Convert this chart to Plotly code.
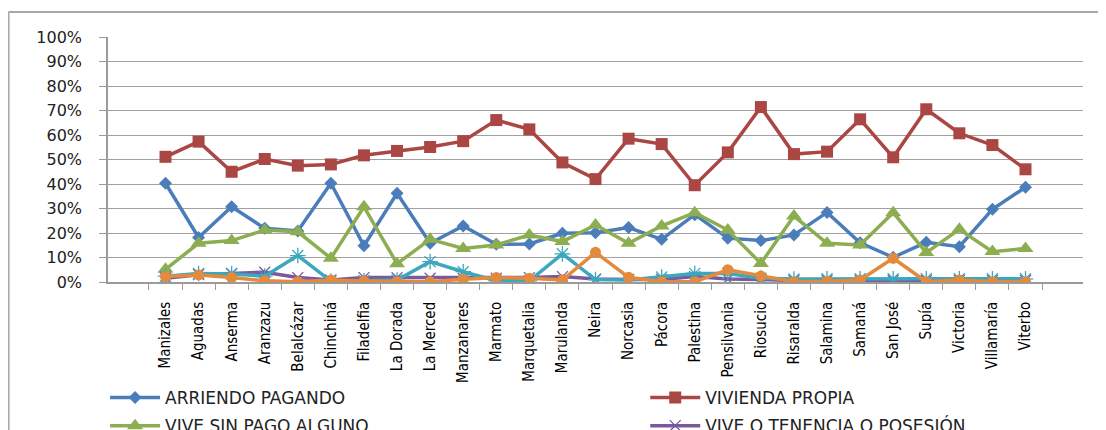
import plotly.graph_objects as go

municipios = ["Manizales", "Aguadas", "Anserma", "Aranzazu", "Belalcázar", "Chinchiná",
              "Filadelfia", "La Dorada", "La Merced", "Manzanares", "Marmato", "Marquetalia",
              "Marulanda", "Neira", "Norcasia", "Pácora", "Palestina", "Pensilvania",
              "Riosucio", "Risaralda", "Salamina", "Samaná", "San José", "Supía",
              "Victoria", "Villamaría", "Viterbo"]

arriendo_pagando = [40.3, 18.2, 30.7, 21.9, 20.8, 40.3, 14.8, 36.2, 15.8, 22.9, 15.4, 15.5,
                    19.9, 20.1, 22.2, 17.4, 27.5, 17.9, 16.9, 19.2, 28.4, 16.0, 10.1, 16.2,
                    14.4, 29.7, 38.7]
vivienda_propia = [51.1, 57.3, 45.0, 50.2, 47.5, 48.0, 51.7, 53.5, 55.1, 57.5, 66.1, 62.3,
                   48.8, 42.0, 58.5, 56.3, 39.5, 52.9, 71.4, 52.2, 53.2, 66.4, 50.9, 70.5,
                   60.7, 55.9, 46.0]
vive_sin_pago = [5.2, 15.8, 16.9, 21.2, 20.5, 9.7, 30.7, 7.5, 17.4, 13.7, 15.1, 19.2,
                 16.5, 23.3, 15.8, 22.9, 28.3, 21.2, 7.6, 26.9, 15.8, 15.1, 28.3, 12.0,
                 21.5, 12.4, 13.7]
vive_tenencia = [1.5, 3.0, 3.5, 4.0, 1.8, 0.8, 1.8, 1.8, 1.5, 1.5, 1.5, 1.8,
                 2.2, 1.2, 1.0, 1.0, 2.2, 1.2, 1.0, 0.6, 0.6, 0.6, 0.6, 0.6,
                 0.6, 0.6, 0.6]
otra_forma = [2.4, 3.5, 3.3, 2.4, 10.8, 0.4, 0.5, 0.8, 8.3, 4.2, 0.5, 0.5,
              11.5, 1.0, 0.8, 2.0, 3.5, 3.5, 1.5, 1.2, 1.3, 1.3, 1.3, 1.3,
              1.3, 1.3, 1.3]
sin_informacion = [2.2, 2.9, 1.8, 0.5, 0.1, 0.8, 0.4, 0.1, 0.1, 1.1, 1.8, 1.5,
                   0.8, 12.1, 1.9, 0.1, 0.1, 5.0, 2.4, 0.1, 0.3, 0.8, 9.7, 0.1,
                   0.8, 0.1, 0.1]

y_ticks = [0, 10, 20, 30, 40, 50, 60, 70, 80, 90, 100]
y_labels = [f"{v}%" for v in y_ticks]

# (name, values, color, marker, legend id or None)
series = [
    ("ARRIENDO PAGANDO", arriendo_pagando, "#4A7DBA", dict(symbol="diamond", size=10), "legend"),
    ("VIVIENDA PROPIA", vivienda_propia, "#AA4643", dict(symbol="square", size=12), "legend2"),
    ("VIVE SIN PAGO ALGUNO", vive_sin_pago, "#8DAE50", dict(symbol="triangle-up", size=14), "legend"),
    ("VIVE O TENENCIA O POSESIÓN", vive_tenencia, "#7A5A9C",
     dict(symbol="x-thin-open", size=11, line=dict(width=1.3, color="#8A70B0")), "legend2"),
    ("OTRA FORMA", otra_forma, "#3DA7BF",
     dict(symbol="asterisk-open", size=13, line=dict(width=1.3, color="#5AB8D0")), None),
    ("SIN INFORMACIÓN", sin_informacion, "#E38A3D", dict(symbol="circle", size=11), None),
]

fig = go.Figure()
for name, vals, color, marker, leg in series:
    m = dict(color=color)
    m.update(marker)
    fig.add_trace(go.Scatter(
        x=municipios, y=vals, name=name, mode="lines+markers",
        line=dict(color=color, width=3.5),
        marker=m, showlegend=leg is not None, legend=leg or "legend",
        legendgroup=name,
    ))

legend_font = dict(family="DejaVu Sans", size=17, color="#222222")
fig.update_layout(
    template="none",
    width=1098, height=422,
    margin=dict(l=100, r=23, t=29, b=148, autoexpand=False),
    paper_bgcolor="white", plot_bgcolor="white",
    font=dict(family="DejaVu Sans", color="#222222"),
    legend=dict(
        orientation="v", x=-0.003, xanchor="left", y=-0.40, yanchor="top",
        font=legend_font, tracegroupgap=3, itemwidth=50,
        bgcolor="rgba(0,0,0,0)", borderwidth=0,
    ),
    legend2=dict(
        orientation="v", x=0.551, xanchor="left", y=-0.40, yanchor="top",
        font=legend_font, tracegroupgap=3, itemwidth=50,
        bgcolor="rgba(0,0,0,0)", borderwidth=0,
    ),
    shapes=[
        dict(type="line", xref="paper", yref="paper", x0=-0.102, x1=1.03, y0=1.102, y1=1.102,
             line=dict(color="#A8A8A8", width=2)),
        dict(type="line", xref="paper", yref="paper", x0=-0.102, x1=-0.102, y0=1.102, y1=-0.62,
             line=dict(color="#A8A8A8", width=2)),
    ],
)

fig.update_xaxes(
    type="category", tickangle=-90, automargin=False,
    tickfont=dict(family="Liberation Sans Narrow, DejaVu Sans Condensed, sans-serif", size=15, color="#000000"),
    showline=True, linecolor="#9A9A9A", linewidth=1.5,
    ticks="outside", tickson="boundaries", ticklen=6, tickcolor="#9A9A9A",
    showgrid=False, zeroline=False, ticklabelstandoff=12,
)
fig.update_yaxes(
    range=[0, 100], tickvals=y_ticks, ticktext=y_labels, automargin=False,
    tickfont=dict(family="DejaVu Sans", size=16, color="#222222"),
    showline=True, linecolor="#9A9A9A", linewidth=1.5,
    ticks="outside", ticklen=7, tickcolor="#9A9A9A",
    showgrid=True, gridcolor="#A0A0A0", gridwidth=1.3,
    zeroline=False, ticklabelstandoff=14,
)

fig.write_html("out.html")
